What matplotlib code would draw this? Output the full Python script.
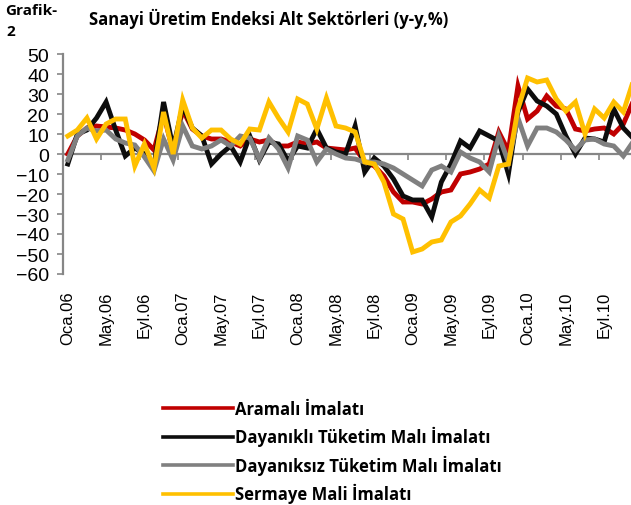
import numpy as np
import matplotlib
matplotlib.use('Agg')
import matplotlib.pyplot as plt
from matplotlib.lines import Line2D

# monthly y-y % changes, Oca.06 .. Ara.10
aramali = [0, 9, 13, 14, 13.5, 13, 12, 10, 7, 2, 20, 1, 22, 12.5, 9, 7.5, 7.5, 6, 4, 7.5,
           6, 7, 4, 4, 6, 5, 6, 3, 2.5, 2, 3, -4, -6, -11, -19, -24, -24, -25, -22.5, -19,
           -18, -10, -9, -7.5, -5, 11, 1.5, 34, 17.5, 21.5, 29, 24, 22.5, 12.5, 11.5, 12.5, 13, 10, 15, 26]
dayanikli = [-5, 10, 12, 18, 26, 12, -1, 3, 0, -6, 26, 3, 24, 13, 9, -5, 0, 4, -4, 9,
             -3, 6, 5, -3.5, 4, 3, 12.5, 3, 1, 0, 14, -9, -2, -6, -12.5, -21, -23, -23, -31.5, -14,
             -5, 6.5, 3, 11.5, 9, 6.5, -10, 21, 32.5, 26.5, 24, 20, 9, 0, 8, 7.5, 6, 22.5, 13, 8]
dayaniksiz = [-3, 9, 13, 11.5, 12, 7.5, 5.5, 4.5, -1.5, -8.5, 7.5, -3, 14, 4, 2.5, 4, 7, 4, 9, 8,
              -2.5, 8, 2.5, -7, 9, 7, -4, 2.5, 0, -2, -2.5, -4, -4, -5, -7, -10, -13, -16, -8, -6,
              -9, 1, -2, -4, -9, 9, -4, 18, 4, 13, 13, 11, 7, 2, 7, 7.5, 5, 4, -1, 6]
sermaye = [9, 12, 18, 7.5, 15, 17.5, 17.5, -6, 5, -7, 21, 0, 27, 13, 8, 12, 12, 7.5, 5, 12.5,
           12, 26, 18, 11, 27.5, 25, 12.5, 28, 14, 13, 11, -4, -5, -14, -30, -32.5, -49, -47.5, -44, -43,
           -34, -31, -25, -18, -22, -6, -5, 22.5, 38, 36, 37, 27.5, 21.5, 26, 10, 22.5, 18, 26, 21, 36]

tick_labels = ['Oca.06', 'May.06', 'Eyl.06', 'Oca.07', 'May.07', 'Eyl.07', 'Oca.08', 'May.08',
               'Eyl.08', 'Oca.09', 'May.09', 'Eyl.09', 'Oca.10', 'May.10', 'Eyl.10']

series_names = ['Aramalı İmalatı', 'Dayanıklı Tüketim Malı İmalatı',
                'Dayanıksız Tüketim Malı İmalatı', 'Sermaye Mali İmalatı']
colors = ['#C00000', '#0D0D0D', '#808080', '#FFC000']

fig = plt.figure(figsize=(6.31, 5.06), dpi=100)
ax = fig.add_axes([63 / 631, 1 - 275 / 506, 568 / 631, 220 / 506])

x = np.arange(len(sermaye))
for vals, c in zip([aramali, dayanikli, dayaniksiz, sermaye], colors):
    ax.plot(x, vals, color=c, lw=3.5, solid_joinstyle='miter')

ax.set_xlim(-0.5, 58.8)
ax.set_ylim(-60, 50)
ax.set_yticks(np.arange(-60, 51, 10))
ax.tick_params(axis='y', direction='out', length=4, width=1.2, color='#868686',
               labelsize=14, pad=6)
for lab in ax.get_yticklabels():
    lab.set_fontfamily('Liberation Sans')

ax.spines['top'].set_visible(False)
ax.spines['right'].set_visible(False)
ax.spines['left'].set_color('#868686')
ax.spines['left'].set_linewidth(1.6)
ax.spines['bottom'].set_position(('data', 0))
ax.spines['bottom'].set_color('#868686')
ax.spines['bottom'].set_linewidth(1.6)
ax.spines['bottom'].set_zorder(0)

label_pos = np.arange(0, 60, 4)
ax.set_xticks(label_pos - 0.5)
ax.tick_params(axis='x', direction='out', length=4, width=1.2, color='#868686',
               labelbottom=False)
for p, t in zip(label_pos, tick_labels):
    ax.text(p, -0.075, t, transform=ax.get_xaxis_transform(), rotation=90,
            ha='center', va='top', fontsize=12, family='Liberation Sans')

fig.text(269 / 631, 1 - 19 / 506, 'Sanayi Üretim Endeksi Alt Sektörleri (y-y,%)',
         ha='center', va='center', fontsize=12, fontweight='bold', family='Open Sans')
fig.text(5 / 631, 1 - 11 / 506, 'Grafik-', ha='left', va='center', fontsize=11,
         fontweight='bold', family='Open Sans')
fig.text(6 / 631, 1 - 32 / 506, '2', ha='left', va='center', fontsize=11,
         fontweight='bold', family='Open Sans')

handles = [Line2D([], [], color=c, lw=2.6) for c in colors]
fig.legend(handles, series_names, loc='upper left', bbox_to_anchor=(148 / 631, 1 - 386 / 506),
           frameon=False, handlelength=4.2, handletextpad=0.1, labelspacing=0.5,
           prop={'family': 'Open Sans', 'weight': 'bold', 'size': 12})

fig.savefig('out.png', dpi=100)
